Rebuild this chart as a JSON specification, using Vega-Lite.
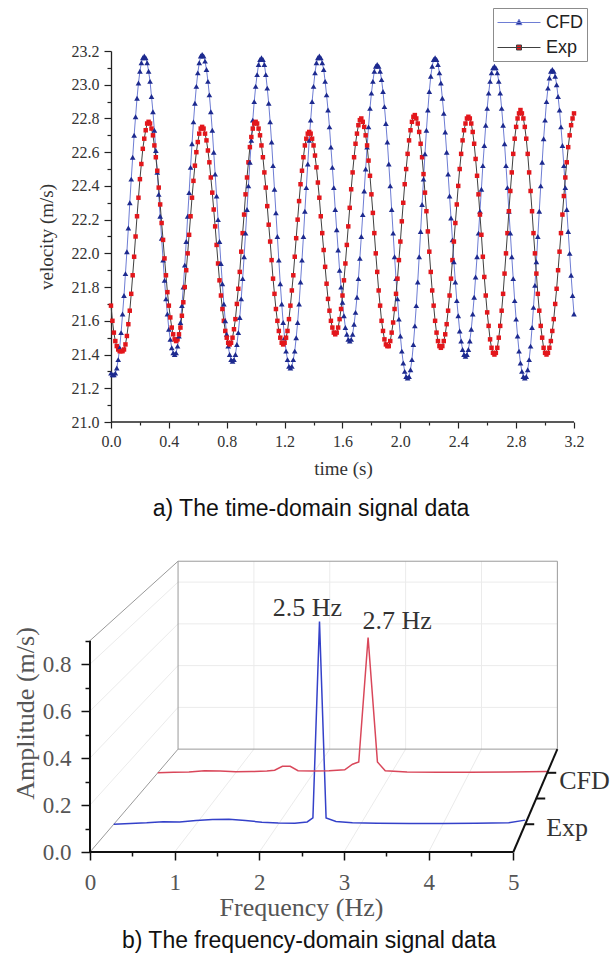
{
  "$schema": "https://vega.github.io/schema/vega-lite/v6.json",
  "background": "white",
  "padding": {"left": 12, "top": 7, "right": 0, "bottom": 0},
  "bounds": "flush",
  "spacing": 120,
  "config": {
    "view": {"stroke": null},
    "axis": {"labelFont": "Liberation Serif", "titleFont": "Liberation Serif", "titleFontWeight": "normal", "grid": false, "labelFlush": false, "labelOverlap": false}
  },
  "vconcat": [
    {
      "width": 484,
      "height": 371,
      "title": {"text": "a) The time-domain signal data", "orient": "bottom", "anchor": "middle", "dx": -21, "offset": 20, "font": "Liberation Sans", "fontSize": 23, "fontWeight": "normal", "color": "#111111"},
      "data": {"values": [
        {"t":0.00,"CFD":21.29,"Exp":21.69},{"t":0.01,"CFD":21.28,"Exp":21.60},{"t":0.02,"CFD":21.28,"Exp":21.53},{"t":0.03,"CFD":21.29,"Exp":21.48},{"t":0.04,"CFD":21.32,"Exp":21.45},
        {"t":0.05,"CFD":21.37,"Exp":21.43},{"t":0.06,"CFD":21.44,"Exp":21.42},{"t":0.07,"CFD":21.53,"Exp":21.42},{"t":0.08,"CFD":21.64,"Exp":21.42},{"t":0.09,"CFD":21.75,"Exp":21.43},
        {"t":0.10,"CFD":21.88,"Exp":21.46},{"t":0.11,"CFD":22.01,"Exp":21.51},{"t":0.12,"CFD":22.15,"Exp":21.58},{"t":0.13,"CFD":22.30,"Exp":21.66},{"t":0.14,"CFD":22.44,"Exp":21.76},
        {"t":0.15,"CFD":22.57,"Exp":21.87},{"t":0.16,"CFD":22.70,"Exp":21.98},{"t":0.17,"CFD":22.81,"Exp":22.10},{"t":0.18,"CFD":22.92,"Exp":22.22},{"t":0.19,"CFD":23.01,"Exp":22.33},
        {"t":0.20,"CFD":23.08,"Exp":22.44},{"t":0.21,"CFD":23.13,"Exp":22.53},{"t":0.22,"CFD":23.16,"Exp":22.62},{"t":0.23,"CFD":23.17,"Exp":22.68},{"t":0.24,"CFD":23.16,"Exp":22.73},
        {"t":0.25,"CFD":23.13,"Exp":22.77},{"t":0.26,"CFD":23.08,"Exp":22.78},{"t":0.27,"CFD":23.02,"Exp":22.77},{"t":0.28,"CFD":22.93,"Exp":22.74},{"t":0.29,"CFD":22.84,"Exp":22.70},
        {"t":0.30,"CFD":22.73,"Exp":22.64},{"t":0.31,"CFD":22.61,"Exp":22.57},{"t":0.32,"CFD":22.48,"Exp":22.49},{"t":0.33,"CFD":22.35,"Exp":22.39},{"t":0.34,"CFD":22.22,"Exp":22.29},
        {"t":0.35,"CFD":22.09,"Exp":22.18},{"t":0.36,"CFD":21.96,"Exp":22.08},{"t":0.37,"CFD":21.84,"Exp":21.97},{"t":0.38,"CFD":21.73,"Exp":21.87},{"t":0.39,"CFD":21.64,"Exp":21.77},
        {"t":0.40,"CFD":21.55,"Exp":21.69},{"t":0.41,"CFD":21.49,"Exp":21.62},{"t":0.42,"CFD":21.44,"Exp":21.56},{"t":0.43,"CFD":21.41,"Exp":21.52},{"t":0.44,"CFD":21.40,"Exp":21.49},
        {"t":0.45,"CFD":21.41,"Exp":21.48},{"t":0.46,"CFD":21.45,"Exp":21.49},{"t":0.47,"CFD":21.51,"Exp":21.52},{"t":0.48,"CFD":21.59,"Exp":21.56},{"t":0.49,"CFD":21.69,"Exp":21.63},
        {"t":0.50,"CFD":21.80,"Exp":21.71},{"t":0.51,"CFD":21.93,"Exp":21.80},{"t":0.52,"CFD":22.07,"Exp":21.90},{"t":0.53,"CFD":22.22,"Exp":22.00},{"t":0.54,"CFD":22.36,"Exp":22.11},
        {"t":0.55,"CFD":22.51,"Exp":22.22},{"t":0.56,"CFD":22.65,"Exp":22.33},{"t":0.57,"CFD":22.78,"Exp":22.43},{"t":0.58,"CFD":22.89,"Exp":22.52},{"t":0.59,"CFD":22.99,"Exp":22.60},
        {"t":0.60,"CFD":23.07,"Exp":22.66},{"t":0.61,"CFD":23.13,"Exp":22.71},{"t":0.62,"CFD":23.17,"Exp":22.74},{"t":0.63,"CFD":23.18,"Exp":22.75},{"t":0.64,"CFD":23.17,"Exp":22.74},
        {"t":0.65,"CFD":23.14,"Exp":22.71},{"t":0.66,"CFD":23.09,"Exp":22.67},{"t":0.67,"CFD":23.02,"Exp":22.61},{"t":0.68,"CFD":22.94,"Exp":22.54},{"t":0.69,"CFD":22.84,"Exp":22.45},
        {"t":0.70,"CFD":22.73,"Exp":22.36},{"t":0.71,"CFD":22.60,"Exp":22.26},{"t":0.72,"CFD":22.47,"Exp":22.16},{"t":0.73,"CFD":22.34,"Exp":22.05},{"t":0.74,"CFD":22.20,"Exp":21.94},
        {"t":0.75,"CFD":22.07,"Exp":21.84},{"t":0.76,"CFD":21.94,"Exp":21.75},{"t":0.77,"CFD":21.82,"Exp":21.67},{"t":0.78,"CFD":21.70,"Exp":21.60},{"t":0.79,"CFD":21.60,"Exp":21.54},
        {"t":0.80,"CFD":21.52,"Exp":21.50},{"t":0.81,"CFD":21.45,"Exp":21.47},{"t":0.82,"CFD":21.40,"Exp":21.46},{"t":0.83,"CFD":21.37,"Exp":21.47},{"t":0.84,"CFD":21.36,"Exp":21.50},
        {"t":0.85,"CFD":21.37,"Exp":21.55},{"t":0.86,"CFD":21.40,"Exp":21.61},{"t":0.87,"CFD":21.46,"Exp":21.70},{"t":0.88,"CFD":21.53,"Exp":21.79},{"t":0.89,"CFD":21.62,"Exp":21.89},
        {"t":0.90,"CFD":21.73,"Exp":22.01},{"t":0.91,"CFD":21.85,"Exp":22.12},{"t":0.92,"CFD":21.98,"Exp":22.23},{"t":0.93,"CFD":22.12,"Exp":22.35},{"t":0.94,"CFD":22.26,"Exp":22.45},
        {"t":0.95,"CFD":22.40,"Exp":22.54},{"t":0.96,"CFD":22.54,"Exp":22.63},{"t":0.97,"CFD":22.67,"Exp":22.69},{"t":0.98,"CFD":22.79,"Exp":22.74},{"t":0.99,"CFD":22.90,"Exp":22.77},
        {"t":1.00,"CFD":22.99,"Exp":22.78},{"t":1.01,"CFD":23.06,"Exp":22.77},{"t":1.02,"CFD":23.12,"Exp":22.74},{"t":1.03,"CFD":23.15,"Exp":22.70},{"t":1.04,"CFD":23.16,"Exp":22.64},
        {"t":1.05,"CFD":23.15,"Exp":22.57},{"t":1.06,"CFD":23.12,"Exp":22.48},{"t":1.07,"CFD":23.06,"Exp":22.39},{"t":1.08,"CFD":22.98,"Exp":22.28},{"t":1.09,"CFD":22.89,"Exp":22.17},
        {"t":1.10,"CFD":22.78,"Exp":22.07},{"t":1.11,"CFD":22.66,"Exp":21.96},{"t":1.12,"CFD":22.52,"Exp":21.85},{"t":1.13,"CFD":22.38,"Exp":21.76},{"t":1.14,"CFD":22.24,"Exp":21.67},
        {"t":1.15,"CFD":22.10,"Exp":21.60},{"t":1.16,"CFD":21.96,"Exp":21.54},{"t":1.17,"CFD":21.82,"Exp":21.50},{"t":1.18,"CFD":21.70,"Exp":21.47},{"t":1.19,"CFD":21.59,"Exp":21.46},
        {"t":1.20,"CFD":21.50,"Exp":21.47},{"t":1.21,"CFD":21.42,"Exp":21.50},{"t":1.22,"CFD":21.37,"Exp":21.54},{"t":1.23,"CFD":21.33,"Exp":21.61},{"t":1.24,"CFD":21.32,"Exp":21.69},
        {"t":1.25,"CFD":21.33,"Exp":21.78},{"t":1.26,"CFD":21.37,"Exp":21.87},{"t":1.27,"CFD":21.42,"Exp":21.98},{"t":1.28,"CFD":21.50,"Exp":22.09},{"t":1.29,"CFD":21.59,"Exp":22.20},
        {"t":1.30,"CFD":21.70,"Exp":22.31},{"t":1.31,"CFD":21.83,"Exp":22.41},{"t":1.32,"CFD":21.96,"Exp":22.49},{"t":1.33,"CFD":22.10,"Exp":22.57},{"t":1.34,"CFD":22.25,"Exp":22.64},
        {"t":1.35,"CFD":22.39,"Exp":22.68},{"t":1.36,"CFD":22.53,"Exp":22.71},{"t":1.37,"CFD":22.67,"Exp":22.72},{"t":1.38,"CFD":22.79,"Exp":22.71},{"t":1.39,"CFD":22.90,"Exp":22.68},
        {"t":1.40,"CFD":22.99,"Exp":22.64},{"t":1.41,"CFD":23.07,"Exp":22.58},{"t":1.42,"CFD":23.13,"Exp":22.51},{"t":1.43,"CFD":23.16,"Exp":22.42},{"t":1.44,"CFD":23.17,"Exp":22.33},
        {"t":1.45,"CFD":23.16,"Exp":22.22},{"t":1.46,"CFD":23.13,"Exp":22.12},{"t":1.47,"CFD":23.09,"Exp":22.02},{"t":1.48,"CFD":23.02,"Exp":21.92},{"t":1.49,"CFD":22.94,"Exp":21.82},
        {"t":1.50,"CFD":22.85,"Exp":21.73},{"t":1.51,"CFD":22.75,"Exp":21.66},{"t":1.52,"CFD":22.63,"Exp":21.60},{"t":1.53,"CFD":22.51,"Exp":21.56},{"t":1.54,"CFD":22.39,"Exp":21.53},
        {"t":1.55,"CFD":22.26,"Exp":21.52},{"t":1.56,"CFD":22.14,"Exp":21.53},{"t":1.57,"CFD":22.02,"Exp":21.56},{"t":1.58,"CFD":21.90,"Exp":21.61},{"t":1.59,"CFD":21.80,"Exp":21.67},
        {"t":1.60,"CFD":21.71,"Exp":21.75},{"t":1.61,"CFD":21.63,"Exp":21.84},{"t":1.62,"CFD":21.56,"Exp":21.94},{"t":1.63,"CFD":21.52,"Exp":22.05},{"t":1.64,"CFD":21.49,"Exp":22.16},
        {"t":1.65,"CFD":21.48,"Exp":22.27},{"t":1.66,"CFD":21.49,"Exp":22.38},{"t":1.67,"CFD":21.52,"Exp":22.48},{"t":1.68,"CFD":21.58,"Exp":22.57},{"t":1.69,"CFD":21.65,"Exp":22.65},
        {"t":1.70,"CFD":21.74,"Exp":22.71},{"t":1.71,"CFD":21.85,"Exp":22.76},{"t":1.72,"CFD":21.97,"Exp":22.79},{"t":1.73,"CFD":22.10,"Exp":22.80},{"t":1.74,"CFD":22.23,"Exp":22.78},
        {"t":1.75,"CFD":22.37,"Exp":22.75},{"t":1.76,"CFD":22.50,"Exp":22.70},{"t":1.77,"CFD":22.63,"Exp":22.64},{"t":1.78,"CFD":22.75,"Exp":22.55},{"t":1.79,"CFD":22.86,"Exp":22.46},
        {"t":1.80,"CFD":22.95,"Exp":22.35},{"t":1.81,"CFD":23.02,"Exp":22.24},{"t":1.82,"CFD":23.08,"Exp":22.12},{"t":1.83,"CFD":23.11,"Exp":22.00},{"t":1.84,"CFD":23.12,"Exp":21.89},
        {"t":1.85,"CFD":23.11,"Exp":21.78},{"t":1.86,"CFD":23.08,"Exp":21.69},{"t":1.87,"CFD":23.03,"Exp":21.60},{"t":1.88,"CFD":22.96,"Exp":21.54},{"t":1.89,"CFD":22.87,"Exp":21.49},
        {"t":1.90,"CFD":22.77,"Exp":21.46},{"t":1.91,"CFD":22.66,"Exp":21.45},{"t":1.92,"CFD":22.53,"Exp":21.45},{"t":1.93,"CFD":22.40,"Exp":21.48},{"t":1.94,"CFD":22.26,"Exp":21.53},
        {"t":1.95,"CFD":22.12,"Exp":21.59},{"t":1.96,"CFD":21.98,"Exp":21.67},{"t":1.97,"CFD":21.85,"Exp":21.76},{"t":1.98,"CFD":21.73,"Exp":21.85},{"t":1.99,"CFD":21.61,"Exp":21.96},
        {"t":2.00,"CFD":21.51,"Exp":22.07},{"t":2.01,"CFD":21.42,"Exp":22.19},{"t":2.02,"CFD":21.35,"Exp":22.30},{"t":2.03,"CFD":21.30,"Exp":22.41},{"t":2.04,"CFD":21.27,"Exp":22.50},
        {"t":2.05,"CFD":21.26,"Exp":22.59},{"t":2.06,"CFD":21.27,"Exp":22.67},{"t":2.07,"CFD":21.31,"Exp":22.73},{"t":2.08,"CFD":21.37,"Exp":22.78},{"t":2.09,"CFD":21.46,"Exp":22.81},
        {"t":2.10,"CFD":21.57,"Exp":22.82},{"t":2.11,"CFD":21.69,"Exp":22.80},{"t":2.12,"CFD":21.83,"Exp":22.77},{"t":2.13,"CFD":21.98,"Exp":22.72},{"t":2.14,"CFD":22.13,"Exp":22.65},
        {"t":2.15,"CFD":22.29,"Exp":22.57},{"t":2.16,"CFD":22.44,"Exp":22.47},{"t":2.17,"CFD":22.59,"Exp":22.36},{"t":2.18,"CFD":22.73,"Exp":22.25},{"t":2.19,"CFD":22.85,"Exp":22.13},
        {"t":2.20,"CFD":22.96,"Exp":22.01},{"t":2.21,"CFD":23.05,"Exp":21.89},{"t":2.22,"CFD":23.11,"Exp":21.78},{"t":2.23,"CFD":23.15,"Exp":21.69},{"t":2.24,"CFD":23.16,"Exp":21.60},
        {"t":2.25,"CFD":23.15,"Exp":21.53},{"t":2.26,"CFD":23.12,"Exp":21.48},{"t":2.27,"CFD":23.07,"Exp":21.45},{"t":2.28,"CFD":23.01,"Exp":21.44},{"t":2.29,"CFD":22.92,"Exp":21.45},
        {"t":2.30,"CFD":22.83,"Exp":21.48},{"t":2.31,"CFD":22.72,"Exp":21.52},{"t":2.32,"CFD":22.60,"Exp":21.58},{"t":2.33,"CFD":22.47,"Exp":21.66},{"t":2.34,"CFD":22.34,"Exp":21.75},
        {"t":2.35,"CFD":22.21,"Exp":21.85},{"t":2.36,"CFD":22.08,"Exp":21.96},{"t":2.37,"CFD":21.95,"Exp":22.07},{"t":2.38,"CFD":21.83,"Exp":22.18},{"t":2.39,"CFD":21.72,"Exp":22.29},
        {"t":2.40,"CFD":21.63,"Exp":22.40},{"t":2.41,"CFD":21.54,"Exp":22.50},{"t":2.42,"CFD":21.48,"Exp":22.59},{"t":2.43,"CFD":21.43,"Exp":22.67},{"t":2.44,"CFD":21.40,"Exp":22.73},
        {"t":2.45,"CFD":21.39,"Exp":22.77},{"t":2.46,"CFD":21.40,"Exp":22.80},{"t":2.47,"CFD":21.43,"Exp":22.81},{"t":2.48,"CFD":21.48,"Exp":22.80},{"t":2.49,"CFD":21.55,"Exp":22.77},
        {"t":2.50,"CFD":21.64,"Exp":22.72},{"t":2.51,"CFD":21.74,"Exp":22.65},{"t":2.52,"CFD":21.86,"Exp":22.56},{"t":2.53,"CFD":21.98,"Exp":22.46},{"t":2.54,"CFD":22.12,"Exp":22.35},
        {"t":2.55,"CFD":22.25,"Exp":22.23},{"t":2.56,"CFD":22.38,"Exp":22.11},{"t":2.57,"CFD":22.52,"Exp":21.98},{"t":2.58,"CFD":22.64,"Exp":21.86},{"t":2.59,"CFD":22.76,"Exp":21.75},
        {"t":2.60,"CFD":22.86,"Exp":21.65},{"t":2.61,"CFD":22.95,"Exp":21.57},{"t":2.62,"CFD":23.02,"Exp":21.49},{"t":2.63,"CFD":23.07,"Exp":21.44},{"t":2.64,"CFD":23.10,"Exp":21.41},
        {"t":2.65,"CFD":23.11,"Exp":21.40},{"t":2.66,"CFD":23.10,"Exp":21.41},{"t":2.67,"CFD":23.07,"Exp":21.44},{"t":2.68,"CFD":23.02,"Exp":21.50},{"t":2.69,"CFD":22.95,"Exp":21.57},
        {"t":2.70,"CFD":22.86,"Exp":21.66},{"t":2.71,"CFD":22.76,"Exp":21.76},{"t":2.72,"CFD":22.65,"Exp":21.88},{"t":2.73,"CFD":22.52,"Exp":22.00},{"t":2.74,"CFD":22.39,"Exp":22.12},
        {"t":2.75,"CFD":22.25,"Exp":22.25},{"t":2.76,"CFD":22.12,"Exp":22.37},{"t":2.77,"CFD":21.98,"Exp":22.48},{"t":2.78,"CFD":21.85,"Exp":22.59},{"t":2.79,"CFD":21.72,"Exp":22.68},
        {"t":2.80,"CFD":21.61,"Exp":22.75},{"t":2.81,"CFD":21.51,"Exp":22.80},{"t":2.82,"CFD":21.42,"Exp":22.83},{"t":2.83,"CFD":21.35,"Exp":22.85},{"t":2.84,"CFD":21.30,"Exp":22.83},
        {"t":2.85,"CFD":21.27,"Exp":22.80},{"t":2.86,"CFD":21.26,"Exp":22.75},{"t":2.87,"CFD":21.27,"Exp":22.68},{"t":2.88,"CFD":21.31,"Exp":22.59},{"t":2.89,"CFD":21.37,"Exp":22.48},
        {"t":2.90,"CFD":21.45,"Exp":22.37},{"t":2.91,"CFD":21.56,"Exp":22.25},{"t":2.92,"CFD":21.68,"Exp":22.12},{"t":2.93,"CFD":21.81,"Exp":22.00},{"t":2.94,"CFD":21.95,"Exp":21.88},
        {"t":2.95,"CFD":22.10,"Exp":21.76},{"t":2.96,"CFD":22.25,"Exp":21.66},{"t":2.97,"CFD":22.40,"Exp":21.57},{"t":2.98,"CFD":22.54,"Exp":21.50},{"t":2.99,"CFD":22.68,"Exp":21.44},
        {"t":3.00,"CFD":22.79,"Exp":21.41},{"t":3.01,"CFD":22.90,"Exp":21.40},{"t":3.02,"CFD":22.98,"Exp":21.41},{"t":3.03,"CFD":23.04,"Exp":21.44},{"t":3.04,"CFD":23.08,"Exp":21.48},
        {"t":3.05,"CFD":23.09,"Exp":21.54},{"t":3.06,"CFD":23.08,"Exp":21.61},{"t":3.07,"CFD":23.05,"Exp":21.70},{"t":3.08,"CFD":23.00,"Exp":21.79},{"t":3.09,"CFD":22.93,"Exp":21.90},
        {"t":3.10,"CFD":22.85,"Exp":22.01},{"t":3.11,"CFD":22.75,"Exp":22.12},{"t":3.12,"CFD":22.64,"Exp":22.23},{"t":3.13,"CFD":22.52,"Exp":22.34},{"t":3.14,"CFD":22.39,"Exp":22.45},
        {"t":3.15,"CFD":22.26,"Exp":22.54},{"t":3.16,"CFD":22.13,"Exp":22.63},{"t":3.17,"CFD":22.00,"Exp":22.70},{"t":3.18,"CFD":21.87,"Exp":22.76},{"t":3.19,"CFD":21.75,"Exp":22.80},
        {"t":3.20,"CFD":21.64,"Exp":22.83}
      ]},
      "transform": [{"fold": ["CFD", "Exp"], "as": ["series", "v"]}],
      "layer": [
        {
          "data": {"values": [{}]},
          "mark": {"type": "rule", "color": "#222222", "strokeWidth": 1.3},
          "encoding": {
            "x": {"datum": 0, "type": "quantitative"},
            "x2": {"datum": 3.2},
            "y": {"datum": 21, "type": "quantitative"}
          }
        },
        {
          "mark": {"type": "line", "strokeWidth": 1},
          "encoding": {
            "x": {
              "field": "t", "type": "quantitative",
              "scale": {"domain": [-0.145, 3.2], "nice": false, "zero": false},
              "axis": {
                "values": [0, 0.2, 0.4, 0.6, 0.8, 1.0, 1.2, 1.4, 1.6, 1.8, 2.0, 2.2, 2.4, 2.6, 2.8, 3.0, 3.2],
                "tickCount": 100,
                "domain": false, "labelOverlap": false, "labelFlush": false,
                "labelExpr": "round(datum.value * 10) % 4 === 0 ? format(datum.value, '.1f') : ''",
                "tickSize": {"condition": {"test": "round(datum.value * 10) % 4 === 0", "value": 6}, "value": 3},
                "tickColor": "#222222", "tickWidth": 1.2,
                "labelFontSize": 16, "labelColor": "#333333", "labelPadding": 5,
                "title": "time (s)", "titleFontSize": 19, "titleColor": "#333333", "titlePadding": 10, "titleX": 253
              }
            },
            "y": {
              "field": "v", "type": "quantitative",
              "scale": {"domain": [21, 23.2], "nice": false, "zero": false},
              "axis": {
                "values": [21.0, 21.1, 21.2, 21.3, 21.4, 21.5, 21.6, 21.7, 21.8, 21.9, 22.0, 22.1, 22.2, 22.3, 22.4, 22.5, 22.6, 22.7, 22.8, 22.9, 23.0, 23.1, 23.2],
                "tickCount": 100,
                "offset": -21, "labelOverlap": false,
                "domain": true, "domainColor": "#222222", "domainWidth": 1.3,
                "labelExpr": "round(datum.value * 10) % 2 === 0 ? format(datum.value, '.1f') : ''",
                "tickSize": {"condition": {"test": "round(datum.value * 10) % 2 === 0", "value": 7}, "value": 4},
                "tickColor": "#222222", "tickWidth": 1.2,
                "labelFontSize": 16, "labelColor": "#333333", "labelPadding": 5,
                "title": "velocity (m/s)", "titleFontSize": 19, "titleColor": "#333333", "titlePadding": 15
              }
            },
            "detail": {"field": "series"},
            "stroke": {"condition": {"test": "datum.series === 'CFD'", "value": "#6e7dd4"}, "value": "#404040"}
          }
        },
        {
          "mark": {"type": "point", "filled": true, "strokeWidth": 0, "opacity": 1},
          "encoding": {
            "x": {"field": "t", "type": "quantitative"},
            "y": {"field": "v", "type": "quantitative"},
            "fill": {
              "field": "series", "type": "nominal",
              "scale": {"domain": ["CFD", "Exp"], "range": ["#1d2a8f", "#e3161b"]},
              "legend": {
                "title": null, "orient": "none", "legendX": 403, "legendY": -43,
                "padding": 4, "strokeColor": "#8c8c8c", "fillColor": "#ffffff",
                "symbolSize": 400, "symbolStrokeWidth": 1, "symbolOpacity": 1,
                "labelFont": "Liberation Sans", "labelFontSize": 18, "labelColor": "#222222",
                "labelOffset": 28, "rowPadding": 5,
                "encode": {
                  "symbols": {
                    "update": {
                      "shape": {"signal": "datum.value === 'CFD' ? 'M-1,0H3.3M1.15,-0.32L1.45,0.22L0.85,0.22Z' : 'M-1,0H3.3M0.9,-0.25H1.4V0.25H0.9Z'"},
                      "stroke": {"signal": "datum.value === 'CFD' ? '#6e7dd4' : '#404040'"},
                      "strokeWidth": {"value": 1}
                    }
                  }
                }
              }
            },
            "shape": {"condition": {"test": "datum.series === 'CFD'", "value": "triangle-up"}, "value": "square"},
            "size": {"condition": {"test": "datum.series === 'CFD'", "value": 32}, "value": 20}
          }
        }
      ]
    },
    {
      "width": 508,
      "height": 310,
      "title": {"text": "b) The frequency-domain signal data", "orient": "bottom", "anchor": "middle", "dx": -35, "offset": 10, "font": "Liberation Sans", "fontSize": 23, "fontWeight": "normal", "color": "#111111"},
      "data": {"values": [
        {"kind":"grid","id":"bv1","k":0,"f":1,"a":0,"d":1},{"kind":"grid","id":"bv1","k":1,"f":1,"a":0.9,"d":1},
        {"kind":"grid","id":"bv2","k":0,"f":2,"a":0,"d":1},{"kind":"grid","id":"bv2","k":1,"f":2,"a":0.9,"d":1},
        {"kind":"grid","id":"bv3","k":0,"f":3,"a":0,"d":1},{"kind":"grid","id":"bv3","k":1,"f":3,"a":0.9,"d":1},
        {"kind":"grid","id":"bv4","k":0,"f":4,"a":0,"d":1},{"kind":"grid","id":"bv4","k":1,"f":4,"a":0.9,"d":1},
        {"kind":"grid","id":"bh2","k":0,"f":0,"a":0.2,"d":1},{"kind":"grid","id":"bh2","k":1,"f":5,"a":0.2,"d":1},
        {"kind":"grid","id":"bh4","k":0,"f":0,"a":0.4,"d":1},{"kind":"grid","id":"bh4","k":1,"f":5,"a":0.4,"d":1},
        {"kind":"grid","id":"bh6","k":0,"f":0,"a":0.6,"d":1},{"kind":"grid","id":"bh6","k":1,"f":5,"a":0.6,"d":1},
        {"kind":"grid","id":"bh8","k":0,"f":0,"a":0.8,"d":1},{"kind":"grid","id":"bh8","k":1,"f":5,"a":0.8,"d":1},
        {"kind":"grid","id":"fd1","k":0,"f":1,"a":0,"d":0},{"kind":"grid","id":"fd1","k":1,"f":1,"a":0,"d":1},
        {"kind":"grid","id":"fd2","k":0,"f":2,"a":0,"d":0},{"kind":"grid","id":"fd2","k":1,"f":2,"a":0,"d":1},
        {"kind":"grid","id":"fd3","k":0,"f":3,"a":0,"d":0},{"kind":"grid","id":"fd3","k":1,"f":3,"a":0,"d":1},
        {"kind":"grid","id":"fd4","k":0,"f":4,"a":0,"d":0},{"kind":"grid","id":"fd4","k":1,"f":4,"a":0,"d":1},
        {"kind":"grid","id":"lw2","k":0,"f":0,"a":0.2,"d":0},{"kind":"grid","id":"lw2","k":1,"f":0,"a":0.2,"d":1},
        {"kind":"grid","id":"lw4","k":0,"f":0,"a":0.4,"d":0},{"kind":"grid","id":"lw4","k":1,"f":0,"a":0.4,"d":1},
        {"kind":"grid","id":"lw6","k":0,"f":0,"a":0.6,"d":0},{"kind":"grid","id":"lw6","k":1,"f":0,"a":0.6,"d":1},
        {"kind":"grid","id":"lw8","k":0,"f":0,"a":0.8,"d":0},{"kind":"grid","id":"lw8","k":1,"f":0,"a":0.8,"d":1},
        {"kind":"frame","id":"fl","k":0,"f":0,"a":0,"d":0},{"kind":"frame","id":"fl","k":1,"f":0,"a":0,"d":1},
        {"kind":"frame","id":"ft","k":0,"f":0,"a":0.9,"d":0},{"kind":"frame","id":"ft","k":1,"f":0,"a":0.9,"d":1},
        {"kind":"frame","id":"bk","k":0,"f":0,"a":0,"d":1},{"kind":"frame","id":"bk","k":1,"f":5,"a":0,"d":1},
        {"kind":"frame","id":"bk","k":2,"f":5,"a":0.9,"d":1},{"kind":"frame","id":"bk","k":3,"f":0,"a":0.9,"d":1},
        {"kind":"frame","id":"bk","k":4,"f":0,"a":0,"d":1},
        {"kind":"axis","id":"ay","k":0,"f":0,"a":0,"d":0},{"kind":"axis","id":"ay","k":1,"f":0,"a":0.9,"d":0},
        {"kind":"axis","id":"ax","k":0,"f":0,"a":0,"d":0},{"kind":"axis","id":"ax","k":1,"f":5,"a":0,"d":0},
        {"kind":"axis","id":"az","k":0,"f":5,"a":0,"d":0},{"kind":"axis","id":"az","k":1,"f":5,"a":0,"d":1},
        {"kind":"dtick","id":"t1","f":5,"a":0,"d":0.27},{"kind":"dtick","id":"t2","f":5,"a":0,"d":0.52},{"kind":"dtick","id":"t3","f":5,"a":0,"d":0.77},
        {"kind":"spec","id":"Exp","f":0,"a":0,"d":0.27},{"kind":"spec","id":"Exp","f":0.2,"a":0.003,"d":0.27},
        {"kind":"spec","id":"Exp","f":0.4,"a":0.006,"d":0.27},{"kind":"spec","id":"Exp","f":0.6,"a":0.011,"d":0.27},
        {"kind":"spec","id":"Exp","f":0.8,"a":0.01,"d":0.27},{"kind":"spec","id":"Exp","f":1.0,"a":0.016,"d":0.27},
        {"kind":"spec","id":"Exp","f":1.2,"a":0.021,"d":0.27},{"kind":"spec","id":"Exp","f":1.4,"a":0.022,"d":0.27},
        {"kind":"spec","id":"Exp","f":1.6,"a":0.016,"d":0.27},{"kind":"spec","id":"Exp","f":1.8,"a":0.009,"d":0.27},
        {"kind":"spec","id":"Exp","f":2.0,"a":0.005,"d":0.27},{"kind":"spec","id":"Exp","f":2.2,"a":0.004,"d":0.27},
        {"kind":"spec","id":"Exp","f":2.35,"a":0.01,"d":0.27},{"kind":"spec","id":"Exp","f":2.42,"a":0.028,"d":0.27},
        {"kind":"spec","id":"Exp","f":2.5,"a":0.89,"d":0.27},{"kind":"spec","id":"Exp","f":2.58,"a":0.028,"d":0.27},
        {"kind":"spec","id":"Exp","f":2.7,"a":0.012,"d":0.27},{"kind":"spec","id":"Exp","f":2.9,"a":0.006,"d":0.27},
        {"kind":"spec","id":"Exp","f":3.2,"a":0.004,"d":0.27},{"kind":"spec","id":"Exp","f":3.6,"a":0.003,"d":0.27},
        {"kind":"spec","id":"Exp","f":4.0,"a":0.003,"d":0.27},{"kind":"spec","id":"Exp","f":4.4,"a":0.004,"d":0.27},
        {"kind":"spec","id":"Exp","f":4.8,"a":0.006,"d":0.27},{"kind":"spec","id":"Exp","f":5.0,"a":0.018,"d":0.27},
        {"kind":"spec","id":"CFD","f":0,"a":0,"d":0.77},{"kind":"spec","id":"CFD","f":0.2,"a":0.002,"d":0.77},
        {"kind":"spec","id":"CFD","f":0.4,"a":0.004,"d":0.77},{"kind":"spec","id":"CFD","f":0.6,"a":0.01,"d":0.77},
        {"kind":"spec","id":"CFD","f":0.8,"a":0.008,"d":0.77},{"kind":"spec","id":"CFD","f":1.0,"a":0.005,"d":0.77},
        {"kind":"spec","id":"CFD","f":1.2,"a":0.006,"d":0.77},{"kind":"spec","id":"CFD","f":1.4,"a":0.008,"d":0.77},
        {"kind":"spec","id":"CFD","f":1.5,"a":0.012,"d":0.77},{"kind":"spec","id":"CFD","f":1.6,"a":0.03,"d":0.77},
        {"kind":"spec","id":"CFD","f":1.7,"a":0.03,"d":0.77},{"kind":"spec","id":"CFD","f":1.8,"a":0.01,"d":0.77},
        {"kind":"spec","id":"CFD","f":2.0,"a":0.008,"d":0.77},{"kind":"spec","id":"CFD","f":2.2,"a":0.01,"d":0.77},
        {"kind":"spec","id":"CFD","f":2.4,"a":0.014,"d":0.77},{"kind":"spec","id":"CFD","f":2.5,"a":0.04,"d":0.77},
        {"kind":"spec","id":"CFD","f":2.58,"a":0.05,"d":0.77},{"kind":"spec","id":"CFD","f":2.7,"a":0.63,"d":0.77},
        {"kind":"spec","id":"CFD","f":2.82,"a":0.05,"d":0.77},{"kind":"spec","id":"CFD","f":2.92,"a":0.01,"d":0.77},
        {"kind":"spec","id":"CFD","f":3.2,"a":0.004,"d":0.77},{"kind":"spec","id":"CFD","f":3.6,"a":0.003,"d":0.77},
        {"kind":"spec","id":"CFD","f":4.0,"a":0.003,"d":0.77},{"kind":"spec","id":"CFD","f":4.5,"a":0.004,"d":0.77},
        {"kind":"spec","id":"CFD","f":5.0,"a":0.006,"d":0.77},
        {"kind":"note","id":"Exp","label":"2.5 Hz","f":2.5,"a":0.89,"d":0.27},
        {"kind":"note","id":"CFD","label":"2.7 Hz","f":2.7,"a":0.63,"d":0.77},
        {"kind":"dlab","id":"CFD","label":"CFD","f":5,"a":0,"d":0.77},
        {"kind":"dlab","id":"Exp","label":"Exp","f":5,"a":0,"d":0.27}
      ]},
      "transform": [
        {"calculate": "datum.d * 1.04 + datum.f * (1 - 0.104 * datum.d)", "as": "px"},
        {"calculate": "datum.d * 0.438 + datum.a * (1 - 0.111 * datum.d)", "as": "py"}
      ],
      "encoding": {
        "x": {
          "field": "px", "type": "quantitative",
          "scale": {"domain": [0, 6], "nice": false, "zero": false},
          "axis": {
            "values": [0, 0.5, 1, 1.5, 2, 2.5, 3, 3.5, 4, 4.5, 5],
            "tickCount": 100,
            "domain": false, "labelOverlap": false, "labelFlush": false,
            "labelExpr": "datum.value % 1 === 0 ? format(datum.value, 'd') : ''",
            "tickSize": {"condition": {"test": "datum.value % 1 === 0", "value": 8}, "value": 4},
            "tickColor": "#111111", "tickWidth": 1.5,
            "labelFontSize": 23, "labelColor": "#555555", "labelPadding": 11,
            "title": "Frequency (Hz)", "titleFontSize": 26, "titleColor": "#555555", "titlePadding": 0, "titleX": 211
          }
        },
        "y": {
          "field": "py", "type": "quantitative",
          "scale": {"domain": [0, 1.32], "nice": false, "zero": false},
          "axis": {
            "values": [0, 0.1, 0.2, 0.3, 0.4, 0.5, 0.6, 0.7, 0.8, 0.9],
            "tickCount": 100,
            "domain": false, "labelOverlap": false,
            "labelExpr": "round(datum.value * 10) % 2 === 0 && datum.value < 0.85 ? format(datum.value, '.1f') : ''",
            "tickSize": {"condition": {"test": "round(datum.value * 10) % 2 === 0 && datum.value < 0.85", "value": 9}, "value": 5},
            "tickColor": "#111111", "tickWidth": 1.5,
            "labelFontSize": 23, "labelColor": "#555555", "labelPadding": 10,
            "title": "Amplitude (m/s)", "titleFontSize": 26, "titleColor": "#555555", "titlePadding": 4, "titleY": 171
          }
        }
      },
      "layer": [
        {
          "transform": [{"filter": "datum.kind === 'grid'"}],
          "mark": {"type": "line", "color": "#ebebeb", "strokeWidth": 1},
          "encoding": {"detail": {"field": "id"}, "order": {"field": "k"}}
        },
        {
          "transform": [{"filter": "datum.kind === 'frame'"}],
          "mark": {"type": "line", "color": "#9a9a9a", "strokeWidth": 1},
          "encoding": {"detail": {"field": "id"}, "order": {"field": "k"}}
        },
        {
          "transform": [{"filter": "datum.kind === 'spec'"}],
          "mark": {"type": "line", "strokeWidth": 1.5},
          "encoding": {
            "color": {"field": "id", "type": "nominal", "scale": {"domain": ["Exp", "CFD"], "range": ["#3441c9", "#d9475a"]}, "legend": null},
            "order": {"field": "f"}
          }
        },
        {
          "transform": [{"filter": "datum.kind === 'axis'"}],
          "mark": {"type": "line", "color": "#111111", "strokeWidth": 2},
          "encoding": {"detail": {"field": "id"}, "order": {"field": "k"}}
        },
        {
          "transform": [{"filter": "datum.kind === 'dtick'"}],
          "mark": {"type": "tick", "orient": "horizontal", "size": 9, "thickness": 2, "color": "#111111", "opacity": 1, "xOffset": 4.5}
        },
        {
          "transform": [{"filter": "datum.kind === 'note' && datum.id === 'Exp'"}],
          "mark": {"type": "text", "font": "Liberation Serif", "fontSize": 26, "color": "#333333", "align": "center", "baseline": "middle", "dx": -12, "dy": -13},
          "encoding": {"text": {"field": "label"}}
        },
        {
          "transform": [{"filter": "datum.kind === 'note' && datum.id === 'CFD'"}],
          "mark": {"type": "text", "font": "Liberation Serif", "fontSize": 26, "color": "#333333", "align": "center", "baseline": "middle", "dx": 29, "dy": -16},
          "encoding": {"text": {"field": "label"}}
        },
        {
          "transform": [{"filter": "datum.kind === 'dlab' && datum.id === 'CFD'"}],
          "mark": {"type": "text", "font": "Liberation Serif", "fontSize": 26, "color": "#333333", "align": "left", "baseline": "middle", "dx": 12, "dy": 8},
          "encoding": {"text": {"field": "label"}}
        },
        {
          "transform": [{"filter": "datum.kind === 'dlab' && datum.id === 'Exp'"}],
          "mark": {"type": "text", "font": "Liberation Serif", "fontSize": 26, "color": "#333333", "align": "left", "baseline": "middle", "dx": 21, "dy": 4},
          "encoding": {"text": {"field": "label"}}
        }
      ]
    }
  ]
}
